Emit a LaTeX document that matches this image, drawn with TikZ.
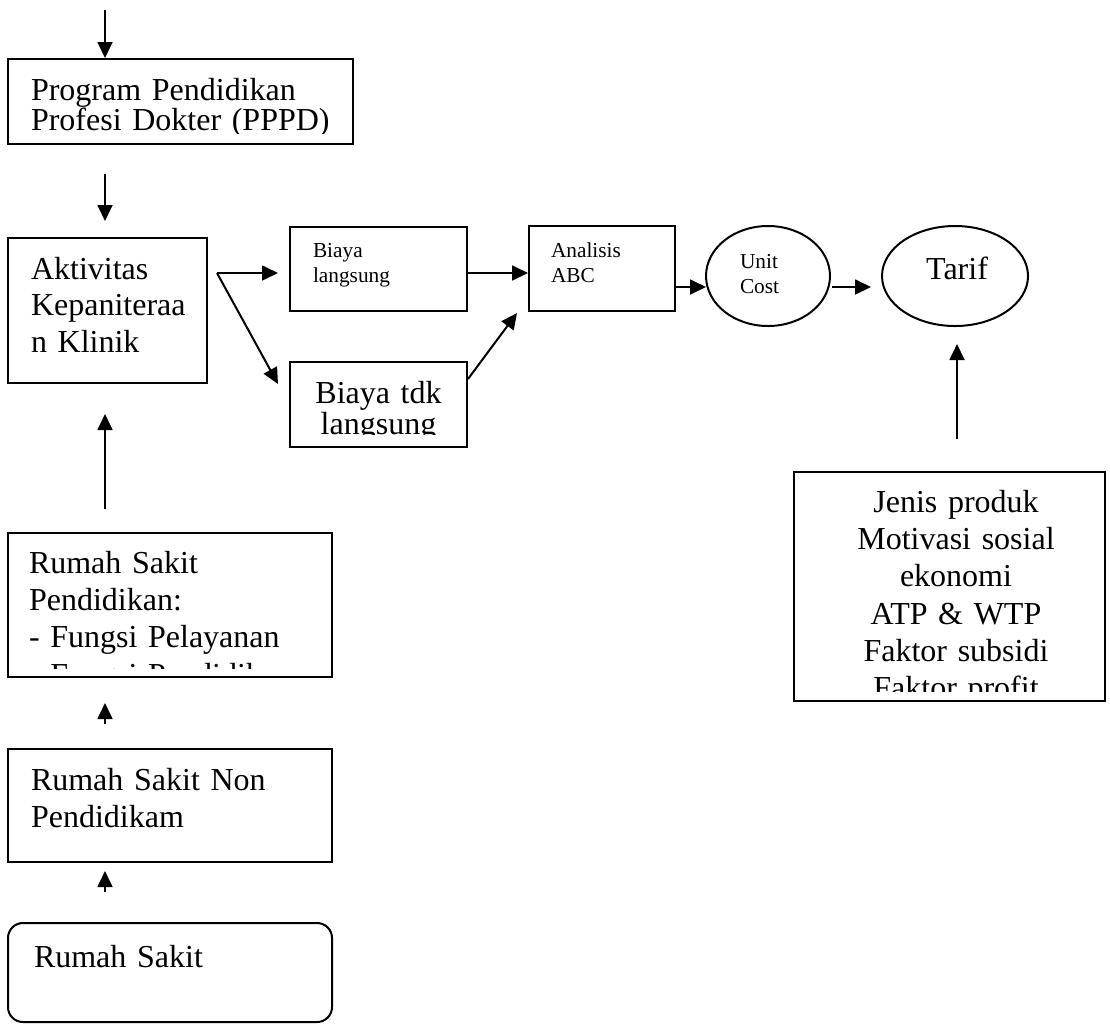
\documentclass[tikz,border=0pt]{standalone}
\usepackage{fontspec}
\setmainfont{Liberation Serif}
\usetikzlibrary{arrows.meta,calc,shapes.geometric}

\begin{document}
\begin{tikzpicture}[x=0.375pt, y=-0.375pt, line width=0.75pt,
		>={Triangle[length=6pt, width=5.6pt]},
		dims/.style 2 args={minimum width=#1*0.375pt, minimum height=#2*0.375pt},
		box/.style={draw, rectangle, inner sep=0pt},
		oval/.style={draw, ellipse, inner sep=0pt},
		lbl/.style={inner sep=0pt, anchor=base west, align=left, text width=8cm},
		ctext/.style={inner sep=0pt, anchor=base, align=center, text width=8cm},
		big/.style={font=\fontsize{12}{#1}\selectfont},
		big/.default=14pt,
		small/.style={font=\fontsize{8}{9.4pt}\selectfont}]
	\useasboundingbox (0,0) rectangle (1110,1025);

	% boxes
	\node[box, dims={345}{85}] (pppd) at (180.5,101.5) {};
	\node[box, dims={199}{145}] (akt) at (107.5,310.5) {};
	\node[box, dims={177}{84}] (bl) at (378.5,269) {};
	\node[box, dims={177}{85}] (bt) at (378.5,404.5) {};
	\node[box, dims={146}{85}] (abc) at (602,268.5) {};
	\node[oval, dims={124}{100}] (uc) at (768,276) {};
	\node[oval, dims={146}{100}] (tf) at (955,276) {};
	\node[box, dims={311}{229}] (fac) at (949.5,586.5) {};
	\node[box, dims={324}{144}] (rsp) at (170,605) {};
	\node[box, dims={324}{113}] (rsn) at (170,805.5) {};
	\node[box, dims={324}{99}, rounded corners=5.6pt] (rs) at (170,972.5) {};

	% texts
	\begin{scope}
		\clip (pppd.north west) rectangle ($(pppd.south east)+(0,-12)$);
		\node[lbl, big=11.6pt] (pppd-t) at (30,100) {Program Pendidikan\\Profesi Dokter (PPPD)};
	\end{scope}
	\node[lbl, big=13.7pt] (akt-t) at (30,279) {Aktivitas\\Kepaniteraa\\n Klinik};
	\node[lbl, small] (bl-t) at (312,257) {Biaya\\langsung};
	\begin{scope}
		\clip (bt.north west) rectangle ($(bt.south east)+(0,-14)$);
		\node[ctext, big=11.9pt] (bt-t) at (378.5,403) {Biaya tdk\\langsung};
	\end{scope}
	\node[lbl, small] (abc-t) at (550,257) {Analisis\\ABC};
	\node[lbl, small] (uc-t) at (739,268) {Unit\\Cost};
	\node[ctext, big] (tf-t) at (957,279) {Tarif};
	\begin{scope}
		\clip (fac.north west) rectangle ($(fac.south east)+(0,-11)$);
		\node[ctext, big] (fac-t) at (956,512) {Jenis produk\\Motivasi sosial\\ekonomi\\ATP \& WTP\\Faktor subsidi\\Faktor profit};
	\end{scope}
	\begin{scope}
		\clip (rsp.north west) rectangle ($(rsp.south east)+(0,-10)$);
		\node[lbl, big] (rsp-t) at (28,573) {Rumah Sakit\\Pendidikan:\\- Fungsi Pelayanan\\- Fungsi Pendidikan};
	\end{scope}
	\node[lbl, big] (rsn-t) at (30,790) {Rumah Sakit Non\\Pendidikam};
	\node[lbl, big] (rs-t) at (33,967) {Rumah Sakit};

	% arrows
	\coordinate (start) at (105,10);
	\coordinate (fork) at (217,273);
	\draw[->] (start) -- (start |- pppd.north);
	\draw[->] ($(pppd.south -| start)+(0,29)$) -- ($(akt.north -| start)+(0,-16)$);
	\draw[->] (fork) -- ($(bl.west |- fork)+(-11,0)$);
	\draw[->] (fork) -- ($(bt.north west)+(-11,23)$);
	\draw[->] (bl.east |- fork) -- (abc.west |- fork);
	\draw[->] ($(bt.north east)+(0,18)$) -- ($(abc.south west)+(-11,1)$);
	\draw[->] ($(abc.east)+(0,18.5)$) -- ($(uc.west)+(1,11)$);
	\draw[->] ($(uc.east)+(1,11)$) -- ($(tf.west)+(-10,11)$);
	\draw[->] ($(fac.north -| tf.south)+(2,-32)$) -- ($(tf.south)+(2,17)$);
	\draw[->] ($(rsp.north -| start)+(0,-23)$) -- ($(akt.south -| start)+(0,30)$);
	\draw[->] ($(rsn.north -| start)+(0,-24)$) -- ($(rsp.south -| start)+(0,25)$);
	\draw[->] ($(rs.north -| start)+(0,-30)$) -- ($(rsn.south -| start)+(0,8)$);
\end{tikzpicture}
\end{document}
